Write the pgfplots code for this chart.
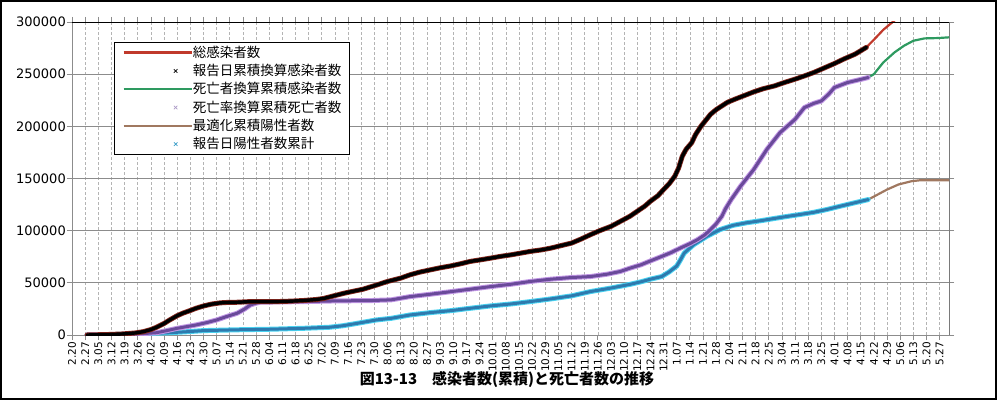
\documentclass[border=0pt]{standalone}
\usepackage{fontspec}
\setmainfont{DejaVu Sans}
\newfontfamily\cjk{Noto Sans CJK JP}
\usepackage{pgfplots}
\usepackage{pgfplotstable}
\pgfplotsset{compat=1.18}
\definecolor{cred}{HTML}{C0392B}
\definecolor{cgreen}{HTML}{2E9A60}
\definecolor{cbrown}{HTML}{A07860}
\definecolor{cpurple}{HTML}{6A4A9A}
\definecolor{cpurplel}{HTML}{C096E4}
\definecolor{cblue}{HTML}{2E7AAE}
\definecolor{cbluel}{HTML}{4AD2F0}
\definecolor{cgridy}{HTML}{8C8C8C}
\definecolor{cgridx}{HTML}{B4B4B4}

\pgfplotstableread{
d v
8 0
20 500
27 1000
34 2000
38 3200
42 5200
45 7400
49 11000
52 14400
56 18500
59 20900
63 23500
66 25600
70 27800
74 29500
78 30600
81 31100
88 31400
95 32000
102 32000
109 32000
116 32400
123 33000
130 34000
134 35000
140 37800
145 40100
150 42000
155 43900
162 47800
168 51300
175 54500
180 57700
185 60200
191 62500
196 64400
202 66300
207 68300
212 70500
218 72200
223 73700
228 75300
234 76900
239 78500
244 80100
250 81600
255 83300
260 85500
266 88100
271 91900
276 96100
281 100000
287 104100
292 108900
297 113700
301 118600
305 123500
308 128200
312 133500
315 139400
318 145000
321 152200
323 160000
325 171400
327 178000
330 184300
332 192000
335 200300
338 207000
340 211500
343 216000
346 219500
349 223000
353 226000
358 229500
363 233000
368 236000
374 238700
379 241800
385 245200
390 248300
395 251600
400 255500
406 260200
411 264500
417 269200
423 275700
}\blk

\pgfplotstableread{
d v
423 275700
427 283000
432 292500
438 301500
441 306000
}\redext

\pgfplotstableread{
d v
8 0
27 500
34 1000
40 1600
45 2200
50 4000
56 6400
61 8000
66 9600
72 12000
77 14400
82 17500
88 20900
92 25000
95 28800
98 30500
100 31400
109 31700
123 32000
141 32700
159 33000
170 33700
180 36800
191 39100
202 41600
212 43900
223 46400
234 48700
244 51300
255 53500
266 55100
276 56000
285 58300
292 60900
297 64000
303 67300
308 71000
314 75300
319 79000
324 83400
329 87500
333 91300
337 96000
340 101000
343 106500
346 113700
348 121000
351 129800
356 142600
363 158600
370 177900
377 193900
385 206700
390 218000
395 222000
399 224300
403 231000
406 237200
413 242000
420 245000
424 246800
}\pur

\pgfplotstableread{
d v
424 246800
427 250000
432 261200
438 270900
443 277200
448 282000
454 284300
461 284600
467 285300
}\greext

\pgfplotstableread{
d v
8 0
20 300
34 1000
45 1700
52 2200
60 3000
70 4200
88 5000
105 5500
123 6400
137 7400
144 8800
150 10600
156 12500
162 14400
170 16000
175 17600
180 19200
191 21500
202 23400
212 25600
223 27900
234 29800
244 32000
255 34600
266 37500
276 41600
287 45000
297 48500
303 51000
308 53500
314 56000
318 60500
322 66000
324 72000
326 78500
331 86500
338 94500
345 101000
352 105100
359 107500
367 109600
374 111700
381 113700
388 115600
395 117600
402 120300
409 123400
416 126400
424 129800
}\blu

\pgfplotstableread{
d v
424 129800
429 134600
434 139400
440 144200
447 147400
452 148400
467 148400
}\broext

\begin{document}
\begin{tikzpicture}
\useasboundingbox (-72bp,-66bp) rectangle (927bp,335bp);
\begin{axis}[
  scale only axis, width=877bp, height=313bp,
  xmin=0, xmax=467, ymin=0, ymax=300000,
  xtick={0,7,...,462},
  xticklabels={2.20,2.27,3.05,3.12,3.19,3.26,4.02,4.09,4.16,4.23,4.30,5.07,5.14,5.21,5.28,6.04,6.11,6.18,6.25,7.02,7.09,7.16,7.23,7.30,8.06,8.13,8.20,8.27,9.03,9.10,9.17,9.24,10.01,10.08,10.15,10.22,10.29,11.05,11.12,11.19,11.26,12.03,12.10,12.17,12.24,12.31,1.07,1.14,1.21,1.28,2.04,2.11,2.18,2.25,3.04,3.11,3.18,3.25,4.01,4.08,4.15,4.22,4.29,5.06,5.13,5.20,5.27},
  ytick={0,50000,100000,150000,200000,250000,300000},
  scaled y ticks=false,
  /pgf/number format/assume math mode=true,
  /pgf/number format/fixed,
  /pgf/number format/1000 sep={},
  y tick label style={font=\fontsize{13bp}{15bp}\selectfont, inner xsep=1bp},
  x tick label style={rotate=90, anchor=east, font=\fontsize{10.5bp}{12bp}\selectfont, inner xsep=1.5bp},
  tick align=outside, major tick length=5bp,
  tick style={draw=cgridy, line width=0.7bp},
  ymajorgrids, xmajorgrids,
  y grid style={draw=cgridy, line width=0.8bp},
  x grid style={draw=cgridx, line width=0.6bp, dash pattern=on 3bp off 2bp},
  axis line style={draw=cgridy, line width=0.9bp},
  legend cell align=left,
  legend image code/.code={\path (0bp,0bp) -- (68bp,0bp);
    \draw[mark repeat=2,mark phase=2,#1] plot coordinates {(38bp,0bp) (52bp,0bp) (66bp,0bp)};},
  legend style={at={(0.0479,0.936)}, anchor=north west, draw=black, line width=0.9bp,
    fill=white, inner xsep=8bp, inner ysep=1bp,
    font=\cjk\fontsize{13.5bp}{15bp}\selectfont,
    nodes={inner xsep=0bp, inner ysep=1.65bp, text height=12bp, text depth=3bp}},
]
% model lines underneath
\addplot[cbrown, line width=2bp, line join=round, forget plot] table[x=d,y=v] {\blu};
\addplot[cgreen, line width=2bp, line join=round, forget plot] table[x=d,y=v] {\pur};
\addplot[cred, line width=2bp, line join=round, forget plot] table[x=d,y=v] {\blk};
% extensions
\addplot[cbrown, line width=2.2bp, line join=round, forget plot] table[x=d,y=v] {\broext};
\addplot[cgreen, line width=2.2bp, line join=round, forget plot] table[x=d,y=v] {\greext};
\addplot[cred, line width=2.2bp, line join=round, forget plot] table[x=d,y=v] {\redext};
% observed bands
\addplot[cbluel, line width=5bp, line join=round, line cap=round, forget plot] table[x=d,y=v] {\blu};
\addplot[cblue, line width=3bp, line join=round, line cap=round, forget plot] table[x=d,y=v] {\blu};
\addplot[cpurplel, line width=5bp, line join=round, line cap=round, forget plot] table[x=d,y=v] {\pur};
\addplot[cpurple, line width=3bp, line join=round, line cap=round, forget plot] table[x=d,y=v] {\pur};
\addplot[cred!70!black, line width=5bp, line join=round, line cap=round, forget plot] table[x=d,y=v] {\blk};
\addplot[black, line width=3.4bp, line join=round, line cap=round, forget plot] table[x=d,y=v] {\blk};
\draw[black, line width=0.9bp] (rel axis cs:0,1) -- (rel axis cs:1,1) -- (rel axis cs:1,0);
% legend
\addlegendimage{cred, line width=2.4bp}
\addlegendentry{総感染者数}
\addlegendimage{black, line width=0.7bp, mark=x, mark size=2.5bp, dash pattern=on 0bp off 60bp, line cap=butt, mark options={solid}}
\addlegendentry{報告日累積換算感染者数}
\addlegendimage{cgreen, line width=2.4bp}
\addlegendentry{死亡者換算累積感染者数}
\addlegendimage{cpurple!55!white, line width=0.7bp, mark=x, mark size=2.5bp, dash pattern=on 0bp off 60bp, line cap=butt, mark options={solid}}
\addlegendentry{死亡率換算累積死亡者数}
\addlegendimage{cbrown, line width=2.4bp}
\addlegendentry{最適化累積陽性者数}
\addlegendimage{cblue!60!cbluel, line width=0.7bp, mark=x, mark size=2.5bp, dash pattern=on 0bp off 60bp, line cap=butt, mark options={solid}}
\addlegendentry{報告日陽性者数累計}
\end{axis}
\draw[black, line width=1.2bp] (-71bp,-64bp) rectangle (924bp,334bp);
\node[font=\cjk\bfseries\fontsize{15bp}{17bp}\selectfont] at (435bp,-45bp) {図13-13　感染者数(累積)と死亡者数の推移};
\end{tikzpicture}
\end{document}
